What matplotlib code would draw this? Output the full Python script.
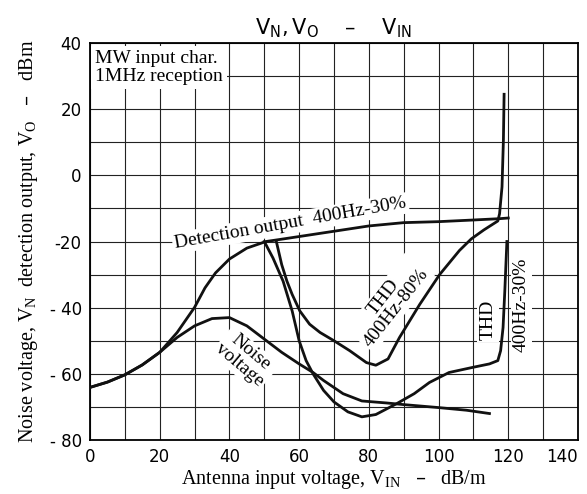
import numpy as np
import matplotlib
matplotlib.use("Agg")
import matplotlib.pyplot as plt

# ---- data (x: dB/m, y: dBm) ----
det_x = [0, 5, 10, 15, 20, 25, 30, 33, 36, 40, 45, 50.5, 55, 60, 70, 80, 90, 100, 110, 117.5, 120]
det_y = [-64.1, -62.5, -60.3, -57.3, -53.5, -47.5, -39.9, -34.0, -29.5, -25.3, -22.0, -20.0,
         -19.3, -18.5, -16.9, -15.3, -14.3, -14.0, -13.5, -13.1, -12.9]

noise_x = [0, 5, 10, 15, 20, 25, 30, 35, 40, 45, 50, 55, 60, 64, 67, 72.6, 78, 85, 90, 100, 108, 114.6]
noise_y = [-64.1, -62.5, -60.3, -57.3, -53.5, -49.0, -45.5, -43.3, -43.0, -45.5, -49.5, -53.5,
           -57.0, -59.6, -62.0, -66.0, -68.2, -68.8, -69.3, -70.2, -71.0, -72.0]

thd80_x = [53.5, 55, 56.5, 58, 60.2, 63, 66, 70, 74.5, 79.3, 82, 85.5, 88.8, 94.6, 100.3, 106,
           109.4, 113, 117, 117.5, 118.2, 118.6, 118.8]
thd80_y = [-20.2, -27.0, -32.0, -36.0, -41.0, -45.0, -47.5, -50.0, -53.0, -56.6, -57.4, -55.5,
           -49.0, -39.0, -30.0, -22.7, -19.2, -16.5, -13.8, -11.6, -3.5, 10.6, 24.5]

thd30_x = [50, 52.5, 55.4, 58, 60, 62, 64, 67, 70, 74, 78, 82, 88, 93, 97.4, 103, 110, 114.6,
           117, 117.8, 118.5, 119, 119.6]
thd30_y = [-20.0, -25.0, -32.0, -41.0, -50.0, -56.0, -60.0, -65.0, -68.5, -71.5, -73.0, -72.3,
           -69.0, -66.0, -62.6, -59.6, -58.0, -57.0, -56.0, -53.0, -46.0, -35.0, -20.0]

x_ticks = [0, 20, 40, 60, 80, 100, 120, 140]
y_ticks = [40, 20, 0, -20, -40, -60, -80]
y_tick_labels = ["40", "20", "0", "-20", "- 40", "- 60", "- 80"]

SERIF = ["Liberation Serif", "DejaVu Serif"]
SANS = ["DejaVu Sans"]
FS = 14

fig = plt.figure(figsize=(5.87, 4.94), dpi=100)
ax = fig.add_axes([90 / 587, 1 - 440 / 494, 488 / 587, 397 / 494])

ax.set_xlim(0, 140)
ax.set_ylim(-80, 40)

ax.set_xticks(x_ticks)
ax.set_xticks(np.arange(10, 140, 20), minor=True)
ax.set_yticks(y_ticks)
ax.set_yticks(np.arange(-70, 40, 20), minor=True)
ax.grid(True, which="both", color="#222222", linewidth=0.8, zorder=0)
ax.set_axisbelow(True)
ax.set_xticklabels([str(v) for v in x_ticks], fontsize=12, family=SANS)
ax.set_yticklabels(y_tick_labels, fontsize=12, family=SANS)
ax.get_xticklabels()[-1].set_ha("right")
ax.tick_params(which="both", length=0, pad=6)
for s in ax.spines.values():
    s.set_linewidth(1.3)

lw = 2.0
ax.plot(det_x, det_y, color="#111111", lw=lw, zorder=4)
ax.plot(noise_x, noise_y, color="#111111", lw=lw, zorder=4)
ax.plot(thd80_x, thd80_y, color="#111111", lw=lw, zorder=4)
ax.plot(thd30_x, thd30_y, color="#111111", lw=lw, zorder=4)

box = dict(facecolor="white", edgecolor="none", pad=1.5)

ax.text(1.5, 37.8, "MW input char.\n1MHz reception", fontsize=FS, family=SERIF,
        va="top", ha="left", linespacing=1.05,
        bbox=dict(facecolor="white", edgecolor="none", pad=3), zorder=3)
ax.text(57.5, -14.5, "Detection output  400Hz-30%", fontsize=FS, family=SERIF,
        rotation=10, ha="center", va="center", bbox=box, zorder=3)
ax.text(44.5, -55.5, "Noise\nvoltage", fontsize=FS, family=SERIF, rotation=-40,
        ha="center", va="center", linespacing=0.95, bbox=box, zorder=3)
ax.text(86, -38.5, "THD\n400Hz-80%", fontsize=FS, family=SERIF, rotation=52,
        ha="center", va="center", linespacing=0.95, bbox=box, zorder=3)
ax.text(114.2, -43.6, "THD", fontsize=FS, family=SERIF, rotation=90,
        ha="center", va="center", bbox=box, zorder=3)
ax.text(123.8, -39, "400Hz-30%", fontsize=FS, family=SERIF, rotation=90,
        ha="center", va="center", bbox=box, zorder=3)

ax.set_title(r"$\mathregular{V_N,V_O}$    –    $\mathregular{V_{IN}}$", fontsize=15,
             family=SANS, pad=6)
ax.set_xlabel(r"Antenna input voltage, $\mathregular{V_{IN}}$   –   dB/m", fontsize=14.5,
              family=SERIF, labelpad=1)
ax.set_ylabel(r"Noise voltage, $\mathregular{V_N}$  detection output, $\mathregular{V_O}$   –   dBm",
              fontsize=14.5, family=SERIF, labelpad=7)

fig.savefig("out.png", dpi=100)
